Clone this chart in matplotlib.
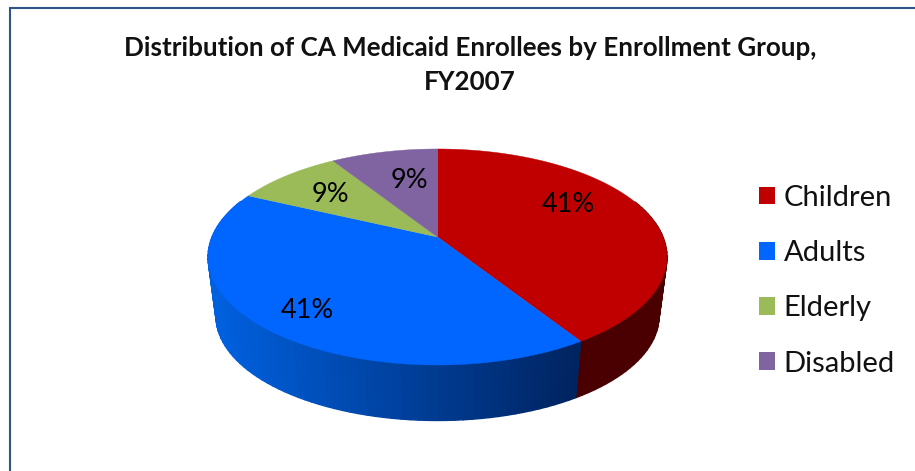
import numpy as np
import matplotlib
matplotlib.use('Agg')
import matplotlib.pyplot as plt
from matplotlib.patches import Patch

# data
groups = ['Children', 'Adults', 'Elderly', 'Disabled']
shares = [41, 41, 9, 9]
colors = ['#c00000', '#0066ff', '#9bbb59', '#8064a2']

# where excel put the percent labels (pixels)
label_x = [568, 307, 330, 409]
label_y = [205, 311, 194, 180]

# pie geometry in pixels, one point perspective
cx = 437.5
cy_top = 237
cy_bottom = 297
rx = 225.5
ry = 104.3
tilt = 0.185
bottom_scale = 0.965


def project(theta, r=1.0, cy=cy_top, scale=1.0):
    # theta is clockwise from 12 o'clock
    u = r * np.sin(theta)
    v = r * np.cos(theta)
    w = 1 + tilt * v
    return cx + scale * rx * u / w, cy - scale * ry * v / w


def wall_color(i, x):
    if i == 1:
        t = np.clip((x - 215) / (575 - 215), 0, 1)
        left = np.array([0, 96, 222])
        right = np.array([0, 36, 96])
        return tuple((left + t * (right - left)) / 255)
    return '#4a0000'


plt.rcParams['font.family'] = ['Lato', 'DejaVu Sans']

fig = plt.figure(figsize=(9.15, 4.71), dpi=100)
ax = fig.add_axes([0, 0, 1, 1])
ax.set_xlim(0, 915)
ax.set_ylim(471, 0)
ax.axis('off')

# frame of the chart area, only left and top show in the crop
ax.plot([9.5, 9.5, 915], [471, 7.5, 7.5], color='#2f5488', linewidth=1.5, solid_joinstyle='miter')

edges = np.cumsum([0] + shares) / sum(shares) * 2 * np.pi

# side wall first, the top goes over it
for i in range(len(shares)):
    start, stop = edges[i], edges[i + 1]
    n = max(2, int((stop - start) * 30))
    th = np.linspace(start, stop, n + 1)
    for a, b in zip(th[:-1], th[1:]):
        if np.cos((a + b) / 2) > 0.35:
            continue
        x1, y1 = project(np.array([a, b]))
        x2, y2 = project(np.array([b, a]), cy=cy_bottom, scale=bottom_scale)
        c = wall_color(i, (x1[0] + x1[1]) / 2)
        ax.fill(np.r_[x1, x2], np.r_[y1, y2], color=c, linewidth=1.0, zorder=2)

# top face
for i in range(len(shares)):
    th = np.linspace(edges[i], edges[i + 1], 120)
    x, y = project(th)
    ax.fill(np.r_[cx, x], np.r_[cy_top, y], color=colors[i], linewidth=0.3, zorder=3)

for x, y, s in zip(label_x, label_y, shares):
    ax.text(x, y, '%d%%' % s, fontsize=19.5, color='black', ha='center', va='center', zorder=4)

ax.text(470, 65.5, 'Distribution of CA Medicaid Enrollees by Enrollment Group,\nFY2007',
        fontsize=18.75, fontweight='bold', color='#111111', ha='center', va='center', linespacing=1.5)

handles = [Patch(facecolor=c, edgecolor='none') for c in colors]
ax.legend(handles, groups, loc='upper left', bbox_to_anchor=(759 / 915, 1 - 185 / 471),
          frameon=False, fontsize=21, handlelength=0.55, handleheight=0.55,
          handletextpad=0.3, labelspacing=1.0, borderpad=0, borderaxespad=0,
          labelcolor='#111111')

fig.savefig('out.png', dpi=100)
